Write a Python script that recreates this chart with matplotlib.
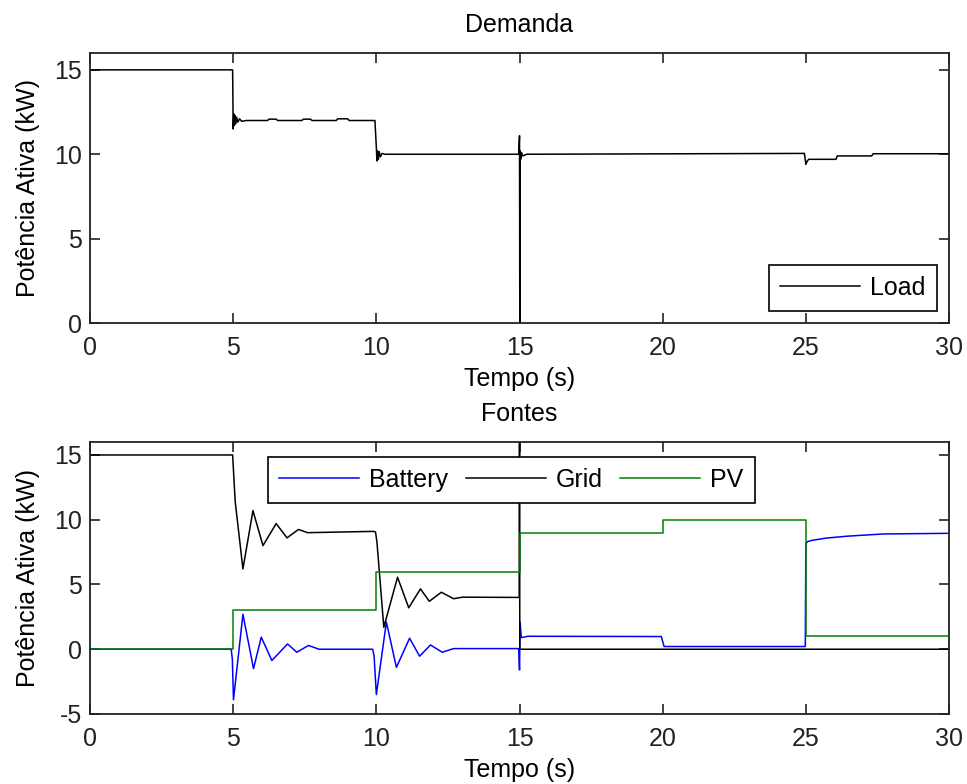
"""
Demanda / Fontes - active power of load and sources vs time
"""

import matplotlib
matplotlib.use('Agg')
import matplotlib.pyplot as plt

# load (kW)
load_t = [0.0, 4.98, 5.00, 5.02, 5.04, 5.06, 5.09, 5.12, 5.16, 5.22, 5.30, 5.45,
          6.2, 6.25, 6.5, 6.55, 7.4, 7.45, 7.7, 7.75, 8.6, 8.65, 9.0, 9.05,
          9.95, 10.0, 10.02, 10.04, 10.07, 10.10, 10.14, 10.20, 10.30,
          14.97, 15.0, 15.01, 15.02, 15.04, 15.07, 15.12, 15.25,
          24.95, 25.0, 25.05, 25.1, 26.05, 26.1, 27.3, 27.35, 30.0]
load_v = [15.0, 15.0, 11.5, 12.4, 11.7, 12.3, 11.8, 12.2, 11.9, 12.1, 11.95, 12.0,
          12.0, 12.08, 12.08, 12.0, 12.0, 12.08, 12.08, 12.0, 12.0, 12.1, 12.1, 12.0,
          12.0, 10.4, 9.6, 10.2, 9.7, 10.15, 9.85, 10.05, 10.0,
          10.0, 11.1, 0.0, 10.2, 9.7, 10.1, 9.9, 10.0,
          10.05, 9.4, 9.6, 9.7, 9.7, 9.9, 9.9, 10.03, 10.03]

# sources (kW), lower panel
grid_t = [0.0, 4.98, 5.07, 5.34, 5.69, 6.04, 6.50, 6.88, 7.28, 7.6, 9.9, 9.97,
          10.02, 10.26, 10.74, 11.13, 11.54, 11.85, 12.27, 12.70, 13.0, 14.99,
          15.0, 15.01, 30.0]
grid_v = [15.0, 15.0, 11.4, 6.2, 10.7, 8.0, 9.7, 8.6, 9.25, 9.0, 9.1, 9.05,
          8.3, 1.7, 5.56, 3.2, 4.66, 3.7, 4.4, 3.9, 4.02, 4.0,
          17.0, 0.0, 0.0]

bat_t = [0.0, 4.93, 4.97, 5.01, 5.34, 5.71, 5.98, 6.35, 6.9, 7.22, 7.63, 8.0,
         9.87, 9.92, 10.0, 10.35, 10.7, 11.16, 11.51, 11.89, 12.3, 12.7, 14.97,
         15.0, 15.02, 15.06, 15.3, 19.95, 20.05, 24.98, 25.0, 25.05, 25.2,
         25.7, 26.45, 27.7, 30.0]
bat_v = [0.0, 0.0, -0.75, -3.9, 2.7, -1.5, 0.93, -0.87, 0.41, -0.23, 0.29, 0.0,
         0.0, -0.5, -3.5, 2.1, -1.4, 0.85, -0.54, 0.33, -0.23, 0.05, 0.05,
         -1.6, 2.1, 0.9, 1.0, 0.98, 0.21, 0.21, 8.14, 8.3, 8.4,
         8.58, 8.73, 8.9, 8.95]

pv_t = [0, 5, 10, 15, 20, 25, 30]
pv_v = [0, 3, 6, 9, 10, 1, 1]

xticks = [0, 5, 10, 15, 20, 25, 30]

plt.rcParams['font.family'] = ['Liberation Sans', 'DejaVu Sans']
plt.rcParams['font.size'] = 18
plt.rcParams['axes.unicode_minus'] = False


def style_axes(ax, title, ylim, yticks):
    """
    matlab-like box axes with inward ticks
    """
    ax.set_xlim(0, 30)
    ax.set_ylim(*ylim)
    ax.set_xticks(xticks)
    ax.set_yticks(yticks)
    ax.tick_params(direction='in', length=7, width=1.2, top=True,
                   right=True, labelsize=18, colors='#222222')
    ax.tick_params(axis='x', pad=9.5)
    ax.tick_params(axis='y', pad=6)
    for sp in ax.spines.values():
        sp.set_linewidth(1.3)
        sp.set_color('#222222')
    ax.set_title(title, fontsize=18, pad=15)
    ax.set_xlabel('Tempo (s)', fontsize=18, labelpad=5)
    ax.set_ylabel('Potência Ativa (kW)', fontsize=18, labelpad=10)


def main():
    fig = plt.figure(figsize=(9.67, 7.84), dpi=100)
    ax1 = fig.add_axes([0.0931, 0.588, 0.8883, 0.3444])
    ax2 = fig.add_axes([0.0931, 0.0893, 0.8883, 0.3469])

    ax1.plot(load_t, load_v, color='black', lw=1.1, label='Load')
    style_axes(ax1, 'Demanda', (0, 16), [0, 5, 10, 15])
    ax1.legend(loc='lower right', bbox_to_anchor=(0.986, 0.044),
               borderaxespad=0, fancybox=False, edgecolor='black',
               framealpha=1, handlelength=3.2, handletextpad=0.4,
               borderpad=0.45, fontsize=18).get_frame().set_linewidth(1.2)

    ax2.plot(bat_t, bat_v, color='blue', lw=1.1, label='Battery')
    ax2.plot(grid_t, grid_v, color='black', lw=1.1, label='Grid')
    ax2.step(pv_t, pv_v, where='post', color=(0, 0.5, 0), lw=1.1, label='PV')
    style_axes(ax2, 'Fontes', (-5, 16), [-5, 0, 5, 10, 15])
    ax2.legend(loc='upper left', bbox_to_anchor=(0.2072, 0.945), ncol=3,
               borderaxespad=0, fancybox=False, edgecolor='black',
               framealpha=1, handlelength=3.2, handletextpad=0.4,
               columnspacing=0.7, borderpad=0.45,
               fontsize=18).get_frame().set_linewidth(1.2)

    fig.savefig('out.png', dpi=100)


if __name__ == '__main__':
    main()
